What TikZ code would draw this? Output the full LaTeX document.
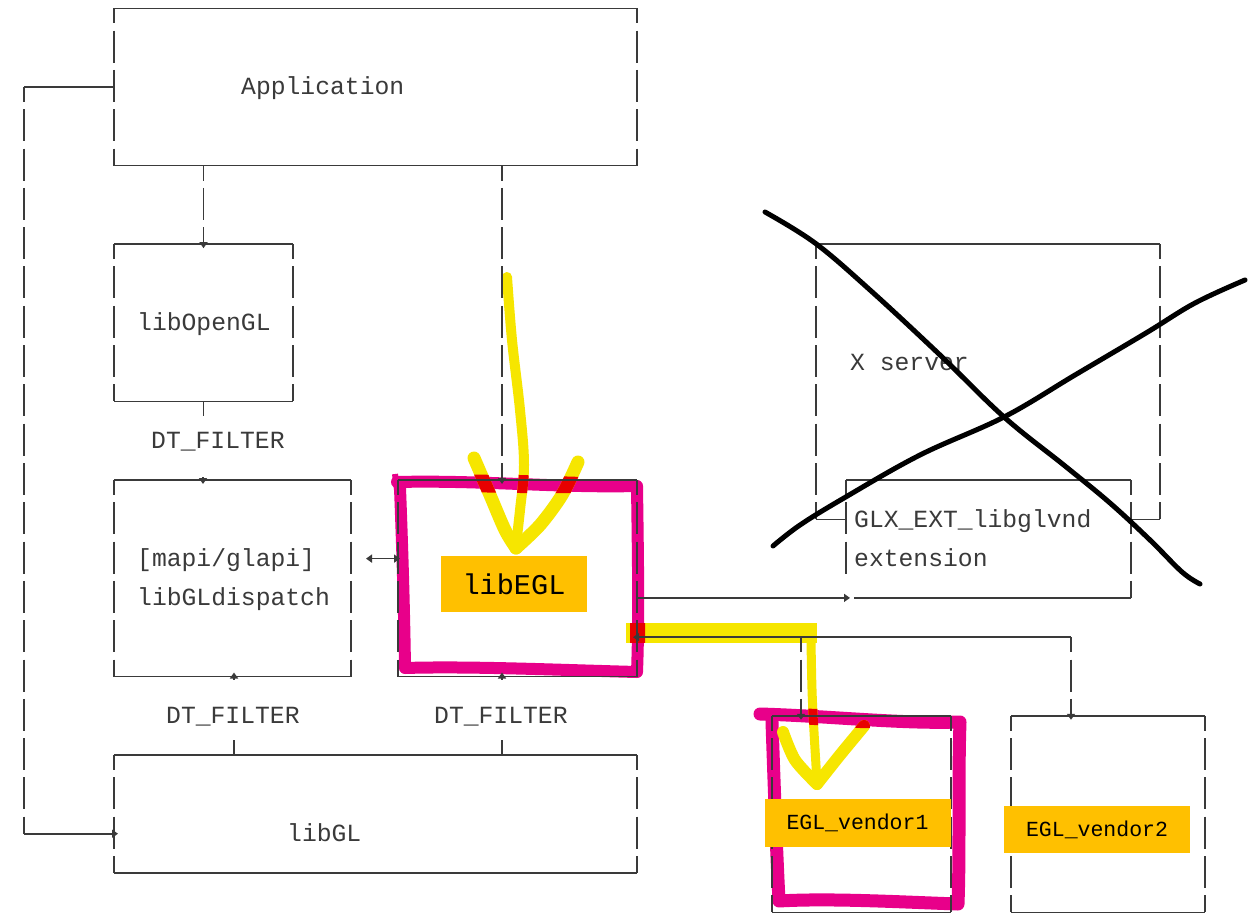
\documentclass[tikz,border=0pt]{standalone}
\usepackage{fontspec}
\setmonofont{Liberation Mono}
\usetikzlibrary{arrows.meta,calc}
\definecolor{ink}{HTML}{3A3A3A}
\definecolor{hlyel}{HTML}{F6E600}
\definecolor{hlmag}{HTML}{E8008A}
\definecolor{hlred}{HTML}{E80000}
\definecolor{lblorange}{HTML}{FFC000}
\newcommand\drawbox[1]{%
  \draw[hl] (#1.north west) -- (#1.north east);
  \draw[hl] (#1.south west) -- (#1.south east);
  \draw[vl] (#1.north west) -- (#1.south west);
  \draw[vl] (#1.north east) -- (#1.south east);}
\newcommand\yelstrokes[1]{%
  \draw[yel, draw=#1, line width=10pt] plot[smooth, tension=0.6] coordinates {(507,277) (512,340) (520,410) (524,465) (520,510) (516,545)};
  \draw[yel, draw=#1, line width=13pt] plot[smooth] coordinates {(474,458) (490,495) (505,530) (516,548)};
  \draw[yel, draw=#1, line width=13pt] plot[smooth] coordinates {(516,548) (540,525) (562,495) (578,462)};
  \fill[#1] (626,623) rectangle (817,643);
  \draw[yel, draw=#1, line width=9pt] (811,641) .. controls (812,700) .. (817,782);
  \draw[yel, draw=#1, line width=12pt] plot[smooth] coordinates {(783,732) (795,760) (817,784)};
  \draw[yel, draw=#1, line width=12pt] plot[smooth] coordinates {(817,784) (840,755) (864,726)};}
\begin{document}
\begin{tikzpicture}[x=1pt,y=-1pt,
  hl/.style={draw=ink, line width=1.6pt},
  vl/.style={draw=ink, line width=1.6pt, dash pattern=on 32pt off 7.3pt, dash phase=17pt},
  boxn/.style={draw=none, inner sep=0pt, outer sep=0pt, anchor=north west},
  txt/.style={font=\ttfamily\fontsize{24.7pt}{30pt}\selectfont, text=ink, inner sep=0pt, anchor=base west},
  tipd/.style={-{Triangle[width=8pt,length=6pt]}},
  tipboth/.style={{Triangle[width=8pt,length=6pt]}-{Triangle[width=8pt,length=6pt]}},
  lbl/.style={fill=lblorange, inner sep=0pt, text=black},
  yel/.style={line cap=round, line join=round},
  mag/.style={draw=hlmag, line width=12pt, line cap=round, line join=round},
  cross/.style={draw=black, line width=5pt, line cap=round, line join=round}
]
\useasboundingbox (0,0) rectangle (1258,917);
\fill[white] (0,0) rectangle (1258,917);

% ---- magenta highlight boxes (under the line work) ----
\draw[mag] (397,482) .. controls (480,480) and (560,488) .. (637,486)
  .. controls (638,560) and (639,620) .. (637,672)
  .. controls (560,670) and (470,666) .. (405,668)
  .. controls (404,600) and (402,540) .. (400,488);
\draw[hlmag, line width=6pt] (395,474) -- (397,490);
\draw[mag, line width=13pt] (760,714) .. controls (830,716) and (900,724) .. (960,722)
  .. controls (958,780) and (960,850) .. (958,904)
  .. controls (900,902) and (830,898) .. (779,901)
  .. controls (776,840) and (774,780) .. (772,722);

% ---- yellow highlighter arrows, red where they cross the magenta ----
\yelstrokes{hlyel}
\begin{scope}
  \clip (389,474) -- (520,475) -- (646,479) -- (646,493) -- (520,493) -- (389,491) -- cycle;
  \yelstrokes{hlred}
\end{scope}
\begin{scope}
  \clip (630,479) rectangle (645,682);
  \yelstrokes{hlred}
\end{scope}
\begin{scope}
  \clip (753,706) -- (860,711) -- (968,714) -- (968,730) -- (860,728) -- (753,721) -- cycle;
  \yelstrokes{hlred}
\end{scope}

% ---- box nodes ----
\node[boxn, minimum width=523pt, minimum height=157.2pt] (app)   at (114,8.4) {};
\node[boxn, minimum width=179pt, minimum height=157.2pt] (ogl)   at (114,244.2) {};
\node[boxn, minimum width=237pt, minimum height=196.5pt] (disp)  at (114,480) {};
\node[boxn, minimum width=239pt, minimum height=196.5pt] (egl)   at (398,480) {};
\node[boxn, minimum width=523pt, minimum height=117.9pt] (libgl) at (114,755.1) {};
\node[boxn, minimum width=344pt, minimum height=275.1pt] (xsrv)  at (816,244.2) {};
\node[boxn, minimum width=285pt, minimum height=117.9pt] (glx)   at (846,480) {};
\node[boxn, minimum width=179pt, minimum height=196.5pt] (v1)    at (772,715.8) {};
\node[boxn, minimum width=194pt, minimum height=196.5pt] (v2)    at (1011,715.8) {};

\drawbox{app}
\drawbox{ogl}
\drawbox{disp}
\drawbox{egl}
\drawbox{libgl}
\drawbox{v1}
\drawbox{v2}
% X server (open bottom)
\draw[hl] (xsrv.north west) -- (xsrv.north east);
\draw[vl] (xsrv.north west) -- (xsrv.south west);
\draw[vl] (xsrv.north east) -- (xsrv.south east);
\draw[hl] (xsrv.south west) -- (glx.west |- xsrv.south west);
\draw[hl] (xsrv.south east) -- (glx.east |- xsrv.south east);
% GLX extension box
\draw[hl] (glx.north west) -- (glx.north east);
\draw[vl] (glx.north east) -- (glx.south east);
\draw[vl] (glx.north west) -- ($(glx.north west)+(0,94)$);
\draw[hl] ($(glx.south west)+(8,0)$) -- (glx.south east);

% ---- texts ----
\node[txt] (tapp)  at (241,95)    {Application};
\node[txt] (togl)  at (137,330.8) {libOpenGL};
\node[txt] (tdt1)  at (151,448.7) {DT\_FILTER};
\node[txt] (tmapi) at (137,566.6) {[mapi/glapi]};
\node[txt] (tdisp) at (137,605.9) {libGLdispatch};
\node[txt] (tdt2)  at (166,723.8) {DT\_FILTER};
\node[txt] (tdt3)  at (434,723.8) {DT\_FILTER};
\node[txt] (tlibgl) at (287,841.7) {libGL};
\node[txt] (txs)   at (850,370.1) {X server};
\node[txt] (tglx)  at (854,527.3) {GLX\_EXT\_libglvnd};
\node[txt] (text)  at (854,566.6) {extension};

% ---- connectors ----
\draw[vl, tipd] (ogl.north |- app.south) -- ($(ogl.north)+(0,4)$);
\draw[hl] (ogl.south) -- ++(0,15);
\draw[hl, tipd] ($(disp.north west)+(89,-3)$) -- ($(disp.north west)+(89,4)$);
\draw[hl] ($(libgl.north west)+(120,0)$) -- ++(0,-15);
\draw[hl, tipd] ($(disp.south west)+(120,3)$) -- ($(disp.south west)+(120,-4)$);
\draw[vl, tipd] ($(app.south west)+(388,0)$) -- ($(egl.north west)+(104,4)$);
\draw[hl] ($(libgl.north west)+(388,0)$) -- ++(0,-15);
\draw[hl, tipd] ($(egl.south west)+(104,3)$) -- ($(egl.south west)+(104,-4)$);
\coordinate (dA) at ($(disp.north east |- 0,558.6)+(15,0)$);
\coordinate (dB) at ($(egl.north west |- 0,558.6)+(2,0)$);
\draw[hl, tipboth] (dA) -- (dB);
\draw[hl, tipd] (egl.east |- glx.south west) -- ($(glx.south west)+(4,0)$);
\coordinate (vR) at (1071,637.2);
\coordinate (vM) at (801,637.2);
\draw[hl, tipd] (vR) -- ($(egl.east |- vR)+(-4,0)$);
\draw[vl, tipd] (vR) -- ($(vR |- v2.north)+(0,4)$);
\draw[vl, tipd] (vM) -- ($(vM |- v1.north)+(0,4)$);
\coordinate (lA) at (24,87);
\coordinate (lB) at (24,833.7);
\draw[hl] (app.west) -- (lA);
\draw[vl] (lA) -- (lB);
\draw[hl, tipd] (lB) -- ($(libgl.west |- lB)+(4,0)$);

% ---- orange labels ----
\node[lbl, minimum width=146pt, minimum height=56pt, font=\ttfamily\fontsize{28.6pt}{32pt}\selectfont] (legl) at (514,584) {libEGL};
\node[lbl, minimum width=186pt, minimum height=48pt, font=\ttfamily\fontsize{21.5pt}{26pt}\selectfont] (lv1) at (857.5,823) {EGL\_vendor1};
\node[lbl, minimum width=186pt, minimum height=47pt, font=\ttfamily\fontsize{21.5pt}{26pt}\selectfont] (lv2) at (1097,829.5) {EGL\_vendor2};

% ---- black cross over X server ----
\draw[cross] plot[smooth, tension=0.6] coordinates {(765,212) (815,243) (870,290) (940,355) (1004,417) (1065,466) (1110,503) (1150,540) (1182,572) (1200,584)};
\draw[cross] plot[smooth, tension=0.6] coordinates {(1245,280) (1195,303) (1146,333) (1075,375) (1004,417) (920,455) (844,498) (800,525) (773,546)};
\end{tikzpicture}
\end{document}
